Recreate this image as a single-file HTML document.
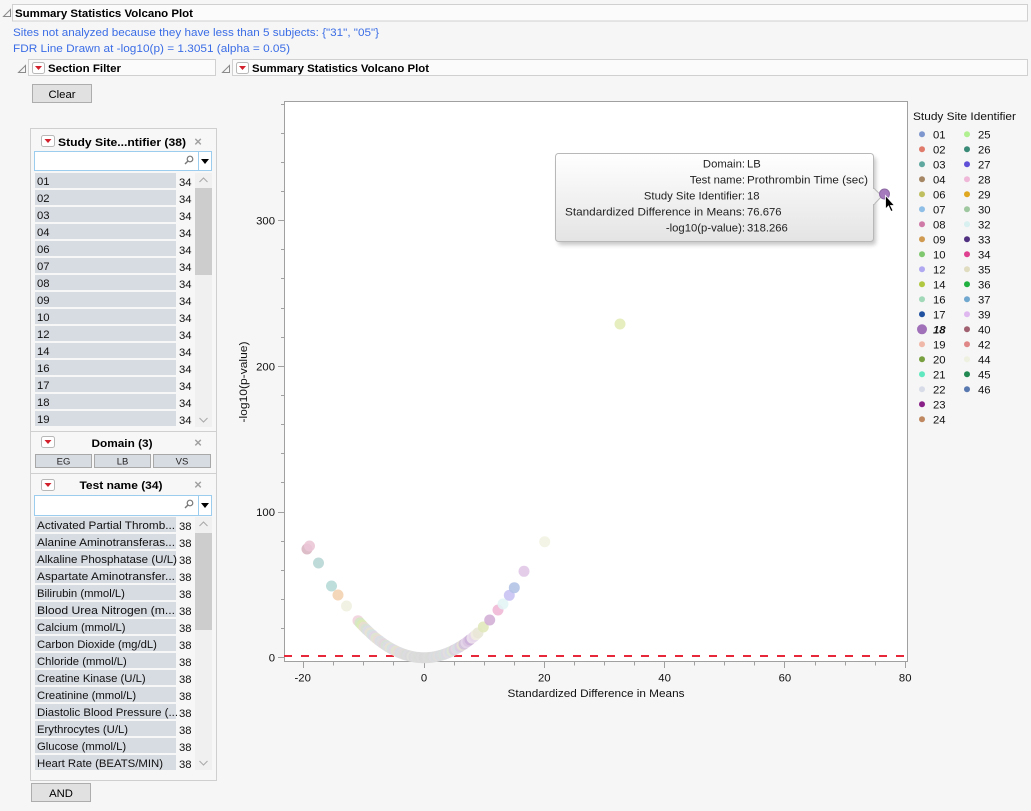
<!DOCTYPE html>
<html><head><meta charset="utf-8">
<style>
html,body{margin:0;padding:0;background:#f6f6f6;}
body{width:1031px;height:811px;overflow:hidden;}
svg{display:block;font-family:"Liberation Sans",sans-serif;}
.b{font-weight:bold;}
</style></head>
<body>
<svg width="1031" height="811" viewBox="0 0 1031 811" xmlns="http://www.w3.org/2000/svg">
<defs>
<linearGradient id="tg" x1="0" y1="0" x2="0" y2="1"><stop offset="0" stop-color="#ffffff"/><stop offset="1" stop-color="#e4e4e4"/></linearGradient>
<filter id="sh" x="-10%" y="-10%" width="130%" height="140%"><feGaussianBlur stdDeviation="2"/></filter>
</defs>
<rect x="0" y="0" width="1031" height="811" fill="#f6f6f6"/>

<!-- top header -->
<polygon points="3.5,16.5 10.5,16.5 10.5,9.5" fill="none" stroke="#8a8a8a"/>
<rect x="12.5" y="4.5" width="1015" height="16.5" fill="#fbfbfb" stroke="#d0d0d0"/>
<text x="15" y="17" font-size="11.4" class="b" fill="#000" textLength="178" lengthAdjust="spacingAndGlyphs">Summary Statistics Volcano Plot</text>
<text x="13" y="36" font-size="11.3" fill="#3b6de6" textLength="366" lengthAdjust="spacingAndGlyphs">Sites not analyzed because they have less than 5 subjects: {"31", "05"}</text>
<text x="13" y="52" font-size="11.3" fill="#3b6de6" textLength="277" lengthAdjust="spacingAndGlyphs">FDR Line Drawn at -log10(p) = 1.3051 (alpha = 0.05)</text>

<!-- section filter header -->
<polygon points="18.5,72.5 25.5,72.5 25.5,65.5" fill="none" stroke="#8a8a8a"/>
<rect x="28.5" y="59.5" width="187" height="16" fill="#fbfbfb" stroke="#d0d0d0"/>
<rect x="32.5" y="62.5" width="12" height="11" rx="2" fill="#fff" stroke="#b8b8b8"/>
<polygon points="35,66 42,66 38.5,70" fill="#d2202c"/>
<text x="48" y="72" font-size="11.4" class="b" textLength="73" lengthAdjust="spacingAndGlyphs">Section Filter</text>

<!-- volcano header -->
<polygon points="222.5,72.5 229.5,72.5 229.5,65.5" fill="none" stroke="#8a8a8a"/>
<rect x="232.5" y="59.5" width="795" height="16" fill="#fbfbfb" stroke="#d0d0d0"/>
<rect x="236.5" y="62.5" width="12" height="11" rx="2" fill="#fff" stroke="#b8b8b8"/>
<polygon points="239,66 246,66 242.5,70" fill="#d2202c"/>
<text x="252" y="72" font-size="11.4" class="b" textLength="177" lengthAdjust="spacingAndGlyphs">Summary Statistics Volcano Plot</text>

<!-- Clear -->
<rect x="32.5" y="84.5" width="59" height="18" fill="#e1e1e1" stroke="#adadad"/>
<text x="62" y="98" font-size="11.3" text-anchor="middle">Clear</text>

<!-- filter panel -->
<rect x="30.5" y="128.5" width="186" height="652" fill="#f7f7f7" stroke="#cfcfcf"/>
<rect x="41.5" y="135.5" width="13" height="11" rx="2" fill="#fff" stroke="#b8b8b8"/>
<polygon points="44.5,139 51.5,139 48,143" fill="#d2202c"/>
<text x="58" y="146" font-size="11.4" class="b" textLength="128" lengthAdjust="spacingAndGlyphs">Study Site...ntifier (38)</text>
<text x="198" y="146" font-size="13" class="b" fill="#a0a0a0" text-anchor="middle">×</text>
<rect x="34.5" y="151.5" width="177" height="19" fill="#fff" stroke="#9ccdee"/>
<circle cx="190" cy="159" r="2.8" fill="none" stroke="#777" stroke-width="1.2"/>
<line x1="188" y1="161" x2="185" y2="164" stroke="#777" stroke-width="1.4"/>
<line x1="198.5" y1="152" x2="198.5" y2="170" stroke="#9ccdee"/>
<polygon points="201,159 209,159 205,164" fill="#000"/>

<g font-size="11.3" fill="#111">
<rect x="35" y="173" width="141" height="15" fill="#d7dbe2"/><text x="37" y="185">01</text><text x="179" y="186">34</text>
<rect x="35" y="190" width="141" height="15" fill="#d7dbe2"/><text x="37" y="202">02</text><text x="179" y="203">34</text>
<rect x="35" y="207" width="141" height="15" fill="#d7dbe2"/><text x="37" y="219">03</text><text x="179" y="220">34</text>
<rect x="35" y="224" width="141" height="15" fill="#d7dbe2"/><text x="37" y="236">04</text><text x="179" y="237">34</text>
<rect x="35" y="241" width="141" height="15" fill="#d7dbe2"/><text x="37" y="253">06</text><text x="179" y="254">34</text>
<rect x="35" y="258" width="141" height="15" fill="#d7dbe2"/><text x="37" y="270">07</text><text x="179" y="271">34</text>
<rect x="35" y="275" width="141" height="15" fill="#d7dbe2"/><text x="37" y="287">08</text><text x="179" y="288">34</text>
<rect x="35" y="292" width="141" height="15" fill="#d7dbe2"/><text x="37" y="304">09</text><text x="179" y="305">34</text>
<rect x="35" y="309" width="141" height="15" fill="#d7dbe2"/><text x="37" y="321">10</text><text x="179" y="322">34</text>
<rect x="35" y="326" width="141" height="15" fill="#d7dbe2"/><text x="37" y="338">12</text><text x="179" y="339">34</text>
<rect x="35" y="343" width="141" height="15" fill="#d7dbe2"/><text x="37" y="355">14</text><text x="179" y="356">34</text>
<rect x="35" y="360" width="141" height="15" fill="#d7dbe2"/><text x="37" y="372">16</text><text x="179" y="373">34</text>
<rect x="35" y="377" width="141" height="15" fill="#d7dbe2"/><text x="37" y="389">17</text><text x="179" y="390">34</text>
<rect x="35" y="394" width="141" height="15" fill="#d7dbe2"/><text x="37" y="406">18</text><text x="179" y="407">34</text>
<rect x="35" y="411" width="141" height="15" fill="#d7dbe2"/><text x="37" y="423">19</text><text x="179" y="424">34</text>
</g>
<rect x="195" y="173" width="17" height="254" fill="#f0f0f0"/>
<rect x="195" y="188" width="17" height="87" fill="#cdcdcd"/>
<polyline points="199.5,182 203.5,178 207.5,182" fill="none" stroke="#a8a8a8"/>
<polyline points="199.5,418 203.5,422 207.5,418" fill="none" stroke="#a8a8a8"/>

<line x1="31" y1="431.5" x2="216" y2="431.5" stroke="#d0d0d0"/>
<rect x="41.5" y="436.5" width="13" height="11" rx="2" fill="#fff" stroke="#b8b8b8"/>
<polygon points="44.5,440 51.5,440 48,444" fill="#d2202c"/>
<text x="122" y="447" font-size="11.4" class="b" text-anchor="middle" textLength="61" lengthAdjust="spacingAndGlyphs">Domain (3)</text>
<text x="198" y="447" font-size="13" class="b" fill="#a0a0a0" text-anchor="middle">×</text>
<g font-size="9.5" fill="#222" text-anchor="middle">
<rect x="35.5" y="454.5" width="56" height="13" fill="#d7dbe2" stroke="#a8a8a8"/><text x="63.5" y="464.5">EG</text>
<rect x="94.5" y="454.5" width="56" height="13" fill="#d7dbe2" stroke="#a8a8a8"/><text x="122.5" y="464.5">LB</text>
<rect x="153.5" y="454.5" width="57" height="13" fill="#d7dbe2" stroke="#a8a8a8"/><text x="182" y="464.5">VS</text>
</g>
<line x1="31" y1="473.5" x2="216" y2="473.5" stroke="#d0d0d0"/>

<rect x="41.5" y="479.5" width="13" height="11" rx="2" fill="#fff" stroke="#b8b8b8"/>
<polygon points="44.5,483 51.5,483 48,487" fill="#d2202c"/>
<text x="121" y="489" font-size="11.4" class="b" text-anchor="middle" textLength="83" lengthAdjust="spacingAndGlyphs">Test name (34)</text>
<text x="198" y="489" font-size="13" class="b" fill="#a0a0a0" text-anchor="middle">×</text>
<rect x="34.5" y="495.5" width="177" height="20" fill="#fff" stroke="#9ccdee"/>
<circle cx="190" cy="503" r="2.8" fill="none" stroke="#777" stroke-width="1.2"/>
<line x1="188" y1="505" x2="185" y2="508" stroke="#777" stroke-width="1.4"/>
<line x1="198.5" y1="496" x2="198.5" y2="515" stroke="#9ccdee"/>
<polygon points="201,503 209,503 205,508" fill="#000"/>

<g font-size="11.3" fill="#111">
<rect x="35" y="517" width="141" height="15" fill="#d7dbe2"/><text x="37" y="529" textLength="138" lengthAdjust="spacingAndGlyphs">Activated Partial Thromb...</text><text x="179" y="530">38</text>
<rect x="35" y="534" width="141" height="15" fill="#d7dbe2"/><text x="37" y="546" textLength="138" lengthAdjust="spacingAndGlyphs">Alanine Aminotransferas...</text><text x="179" y="547">38</text>
<rect x="35" y="551" width="141" height="15" fill="#d7dbe2"/><text x="37" y="563" textLength="140" lengthAdjust="spacingAndGlyphs">Alkaline Phosphatase (U/L)</text><text x="179" y="564">38</text>
<rect x="35" y="568" width="141" height="15" fill="#d7dbe2"/><text x="37" y="580" textLength="138" lengthAdjust="spacingAndGlyphs">Aspartate Aminotransfer...</text><text x="179" y="581">38</text>
<rect x="35" y="585" width="141" height="15" fill="#d7dbe2"/><text x="37" y="597">Bilirubin (mmol/L)</text><text x="179" y="598">38</text>
<rect x="35" y="602" width="141" height="15" fill="#d7dbe2"/><text x="37" y="614" textLength="138" lengthAdjust="spacingAndGlyphs">Blood Urea Nitrogen (m...</text><text x="179" y="615">38</text>
<rect x="35" y="619" width="141" height="15" fill="#d7dbe2"/><text x="37" y="631">Calcium (mmol/L)</text><text x="179" y="632">38</text>
<rect x="35" y="636" width="141" height="15" fill="#d7dbe2"/><text x="37" y="648">Carbon Dioxide (mg/dL)</text><text x="179" y="649">38</text>
<rect x="35" y="653" width="141" height="15" fill="#d7dbe2"/><text x="37" y="665">Chloride (mmol/L)</text><text x="179" y="666">38</text>
<rect x="35" y="670" width="141" height="15" fill="#d7dbe2"/><text x="37" y="682">Creatine Kinase (U/L)</text><text x="179" y="683">38</text>
<rect x="35" y="687" width="141" height="15" fill="#d7dbe2"/><text x="37" y="699">Creatinine (mmol/L)</text><text x="179" y="700">38</text>
<rect x="35" y="704" width="141" height="15" fill="#d7dbe2"/><text x="37" y="716" textLength="141" lengthAdjust="spacingAndGlyphs">Diastolic Blood Pressure (...</text><text x="179" y="717">38</text>
<rect x="35" y="721" width="141" height="15" fill="#d7dbe2"/><text x="37" y="733">Erythrocytes (U/L)</text><text x="179" y="734">38</text>
<rect x="35" y="738" width="141" height="15" fill="#d7dbe2"/><text x="37" y="750">Glucose (mmol/L)</text><text x="179" y="751">38</text>
<rect x="35" y="755" width="141" height="15" fill="#d7dbe2"/><text x="37" y="767" textLength="126" lengthAdjust="spacingAndGlyphs">Heart Rate (BEATS/MIN)</text><text x="179" y="768">38</text>
</g>
<rect x="195" y="517" width="17" height="253" fill="#f0f0f0"/>
<rect x="195" y="533" width="17" height="97" fill="#cdcdcd"/>
<polyline points="199.5,526 203.5,522 207.5,526" fill="none" stroke="#a8a8a8"/>
<polyline points="199.5,761 203.5,765 207.5,761" fill="none" stroke="#a8a8a8"/>

<!-- AND -->
<rect x="31.5" y="783.5" width="59" height="18" fill="#e1e1e1" stroke="#adadad"/>
<text x="61" y="797" font-size="11.3" text-anchor="middle">AND</text>

<!-- plot frame -->
<rect x="284.5" y="101.5" width="623" height="560" fill="#ffffff" stroke="#a0a0a0"/>

<!-- y ticks -->
<path d="M281 628.5h3M281 599.5h3M281 570.5h3M281 541.5h3M281 482.5h3M281 453.5h3M281 424.5h3M281 395.5h3M281 337.5h3M281 308.5h3M281 278.5h3M281 249.5h3M281 191.5h3M281 162.5h3M281 133.5h3M281 104.5h3" stroke="#a0a0a0" fill="none"/>
<path d="M278 657.5h6M278 512.5h6M278 366.5h6M278 220.5h6" stroke="#a0a0a0" fill="none"/>
<g font-size="11.3" fill="#111" text-anchor="end">
<text x="275" y="661.7">0</text>
<text x="275" y="516">100</text>
<text x="275" y="370.3">200</text>
<text x="275" y="224.6">300</text>
</g>
<text transform="translate(247,382) rotate(-90)" font-size="11.3" text-anchor="middle" fill="#111" textLength="81" lengthAdjust="spacingAndGlyphs">-log10(p-value)</text>

<!-- x ticks -->
<path d="M333.5 662v3.5M363.5 662v3.5M393.5 662v3.5M454.5 662v3.5M484.5 662v3.5M514.5 662v3.5M574.5 662v3.5M604.5 662v3.5M634.5 662v3.5M694.5 662v3.5M724.5 662v3.5M754.5 662v3.5M815.5 662v3.5M845.5 662v3.5M875.5 662v3.5" stroke="#a0a0a0" fill="none"/>
<path d="M303.5 662v6M424.5 662v6M544.5 662v6M664.5 662v6M784.5 662v6M905.5 662v6" stroke="#a0a0a0" fill="none"/>
<g font-size="11.3" fill="#111" text-anchor="middle">
<text x="302.7" y="681.5">-20</text>
<text x="424" y="681.5">0</text>
<text x="544.3" y="681.5">20</text>
<text x="664.6" y="681.5">40</text>
<text x="784.9" y="681.5">60</text>
<text x="905.2" y="681.5">80</text>
</g>
<text x="596" y="697" font-size="11.3" text-anchor="middle" fill="#111" textLength="177" lengthAdjust="spacingAndGlyphs">Standardized Difference in Means</text>

<!-- FDR line -->
<line x1="284" y1="656" x2="905" y2="656" stroke="#e6283a" stroke-width="2" stroke-dasharray="8 9"/>

<!-- points -->
<g fill-opacity="0.88">
<circle cx="307" cy="549" r="5.5" fill="#d8b4c0"/>
<circle cx="309.5" cy="546" r="5.5" fill="#ecc6d6"/>
<circle cx="318.5" cy="563" r="5.5" fill="#b6d6d4"/>
<circle cx="331.5" cy="586" r="5.5" fill="#b4dad6"/>
<circle cx="338" cy="595" r="5.5" fill="#f2d0ae"/>
<circle cx="346.5" cy="606" r="5.5" fill="#f0f0e0"/>
<circle cx="358" cy="620.7" r="5.5" fill="#f0d2dc"/>
<circle cx="360" cy="622.9" r="5.5" fill="#d2e8c2"/>
<circle cx="362" cy="625" r="5.5" fill="#dcebb4"/>
<circle cx="364" cy="627.1" r="5.5" fill="#e8dcd4"/>
<circle cx="366" cy="629.1" r="5.5" fill="#d6e2d4"/>
<circle cx="368" cy="631" r="5.5" fill="#dcdce6"/>
<circle cx="370" cy="632.9" r="5.5" fill="#e6e2d2"/>
<circle cx="372" cy="634.7" r="5.5" fill="#d4e0e2"/>
<circle cx="374" cy="636.5" r="5.5" fill="#e2d6e6"/>
<circle cx="376" cy="638.1" r="5.5" fill="#dfe6cf"/>
<circle cx="378" cy="639.7" r="5.5" fill="#e8dcd6"/>
<circle cx="380" cy="641.2" r="5.5" fill="#d8dde6"/>
<circle cx="382" cy="642.7" r="5.5" fill="#dedede"/>
<circle cx="384" cy="644.1" r="5.5" fill="#e4d6de"/>
<circle cx="386" cy="645.4" r="5.5" fill="#d6e2d4"/>
<circle cx="388" cy="646.7" r="5.5" fill="#dcdce6"/>
<circle cx="390" cy="647.9" r="5.5" fill="#e6e2d2"/>
<circle cx="392" cy="649" r="5.5" fill="#d4e0e2"/>
<circle cx="394" cy="650" r="5.5" fill="#e2d6e6"/>
<circle cx="396" cy="651" r="5.5" fill="#dfe6cf"/>
<circle cx="398" cy="652" r="5.5" fill="#e8dcd6"/>
<circle cx="400" cy="652.8" r="5.5" fill="#d8dde6"/>
<circle cx="402" cy="653.6" r="5.5" fill="#dedede"/>
<circle cx="404" cy="654.3" r="5.5" fill="#e0dcdc"/>
<circle cx="406" cy="655" r="5.5" fill="#d8dcd8"/>
<circle cx="408" cy="655.5" r="5.5" fill="#dcdce0"/>
<circle cx="410" cy="656" r="5.5" fill="#dadada"/>
<circle cx="412" cy="656.5" r="5.5" fill="#e0e0dc"/>
<circle cx="414" cy="656.9" r="5.5" fill="#d8d8dc"/>
<circle cx="416" cy="657.2" r="5.5" fill="#dcdcdc"/>
<circle cx="418" cy="657.4" r="5.5" fill="#d8dcd8"/>
<circle cx="420" cy="657.6" r="5.5" fill="#dadada"/>
<circle cx="422" cy="657.7" r="5.5" fill="#dcdcdc"/>
<circle cx="424" cy="657.7" r="5.5" fill="#d8d8d8"/>
<circle cx="426" cy="657.7" r="5.5" fill="#dadada"/>
<circle cx="428" cy="657.6" r="5.5" fill="#dcdcdc"/>
<circle cx="430" cy="657.4" r="5.5" fill="#d8dcd8"/>
<circle cx="432" cy="657.2" r="5.5" fill="#dadada"/>
<circle cx="434" cy="656.9" r="5.5" fill="#dcdce0"/>
<circle cx="436" cy="656.5" r="5.5" fill="#d8dcdc"/>
<circle cx="438" cy="656" r="5.5" fill="#e0dcdc"/>
<circle cx="440" cy="655.5" r="5.5" fill="#d6dce0"/>
<circle cx="442" cy="655" r="5.5" fill="#dcdcdc"/>
<circle cx="444" cy="654.3" r="5.5" fill="#d6e0dc"/>
<circle cx="446" cy="653.6" r="5.5" fill="#dcd8e4"/>
<circle cx="448" cy="652.8" r="5.5" fill="#e2dede"/>
<circle cx="450" cy="652" r="5.5" fill="#d8dce6"/>
<circle cx="452" cy="651" r="5.5" fill="#dfe6d2"/>
<circle cx="454" cy="650" r="5.5" fill="#d8d0e0"/>
<circle cx="456" cy="649" r="5.5" fill="#e4d8e4"/>
<circle cx="458" cy="647.9" r="5.5" fill="#d4e0e2"/>
<circle cx="460" cy="646.7" r="5.5" fill="#dccce2"/>
<circle cx="462" cy="645.4" r="5.5" fill="#e6e2d2"/>
<circle cx="464" cy="644.1" r="5.5" fill="#d0bedc"/>
<circle cx="466" cy="642.7" r="5.5" fill="#e6d6ea"/>
<circle cx="468" cy="641.2" r="5.5" fill="#d8c4e0"/>
<circle cx="470" cy="639.7" r="5.5" fill="#ccb2d8"/>
<circle cx="472" cy="638.1" r="5.5" fill="#efe4ee"/>
<circle cx="474" cy="636.5" r="5.5" fill="#e6d6ea"/>
<circle cx="476" cy="634.7" r="5.5" fill="#f0eee0"/>
<circle cx="478" cy="632.9" r="5.5" fill="#e8e6d6"/>
<circle cx="483.3" cy="627" r="5.5" fill="#e0e8ba"/>
<circle cx="489.7" cy="620" r="5.5" fill="#d2aed6"/>
<circle cx="498" cy="610" r="5.5" fill="#efb6d4"/>
<circle cx="503" cy="604" r="5.5" fill="#e2f5f5"/>
<circle cx="509.3" cy="595.3" r="5.5" fill="#c6c2f2"/>
<circle cx="514.3" cy="587.7" r="5.5" fill="#b2c2e6"/>
<circle cx="524" cy="571.3" r="5.5" fill="#dfc6e6"/>
<circle cx="544.7" cy="541.7" r="5.5" fill="#f3f3e3"/>
<circle cx="620" cy="324" r="5.5" fill="#e2ebb6"/>
</g>

<!-- tooltip -->
<rect x="558" y="157" width="318" height="88" rx="3" fill="#000" opacity="0.22" filter="url(#sh)"/>
<rect x="555.5" y="153.5" width="318" height="88" rx="3" fill="url(#tg)" stroke="#b8b8b8"/>
<polygon points="873.5,188 882,196 873.5,205" fill="#eeeeee" stroke="#b8b8b8"/>
<line x1="873.5" y1="189" x2="873.5" y2="204" stroke="#f0f0f0" stroke-width="1.5"/>
<g font-size="11.3" fill="#222">
<text x="745" y="167.5" text-anchor="end">Domain:</text><text x="747" y="167.5">LB</text>
<text x="745" y="183.5" text-anchor="end">Test name:</text><text x="747" y="183.5" textLength="121" lengthAdjust="spacingAndGlyphs">Prothrombin Time (sec)</text>
<text x="745" y="199.5" text-anchor="end">Study Site Identifier:</text><text x="747" y="199.5">18</text>
<text x="745" y="215.5" text-anchor="end" textLength="180" lengthAdjust="spacingAndGlyphs">Standardized Difference in Means:</text><text x="747" y="215.5">76.676</text>
<text x="745" y="231.5" text-anchor="end">-log10(p-value):</text><text x="747" y="231.5">318.266</text>
</g>
<circle cx="884.5" cy="194" r="5" fill="#a67bbd" stroke="#8e6aa2"/>
<polygon points="885.5,195.5 885.5,209 888.5,206 891,211.5 893,210.5 890.5,205.5 894.5,205.5" fill="#000" stroke="#fff" stroke-width="0.8"/>

<!-- legend -->
<text x="913" y="120" font-size="11.3" fill="#111" textLength="103" lengthAdjust="spacingAndGlyphs">Study Site Identifier</text>
<g font-size="11.3" fill="#111">
<circle cx="922" cy="134.3" r="3" fill="#7f97cf"/><text x="933" y="138.3">01</text>
<circle cx="922" cy="149.3" r="3" fill="#e07a6a"/><text x="933" y="153.3">02</text>
<circle cx="922" cy="164.3" r="3" fill="#5fa8a0"/><text x="933" y="168.3">03</text>
<circle cx="922" cy="179.3" r="3" fill="#a58765"/><text x="933" y="183.3">04</text>
<circle cx="922" cy="194.3" r="3" fill="#bfbf60"/><text x="933" y="198.3">06</text>
<circle cx="922" cy="209.3" r="3" fill="#8fbfe6"/><text x="933" y="213.3">07</text>
<circle cx="922" cy="224.3" r="3" fill="#d07aa8"/><text x="933" y="228.3">08</text>
<circle cx="922" cy="239.3" r="3" fill="#d09a50"/><text x="933" y="243.3">09</text>
<circle cx="922" cy="254.3" r="3" fill="#80c870"/><text x="933" y="258.3">10</text>
<circle cx="922" cy="269.3" r="3" fill="#b0a8f0"/><text x="933" y="273.3">12</text>
<circle cx="922" cy="284.3" r="3" fill="#b0c840"/><text x="933" y="288.3">14</text>
<circle cx="922" cy="299.3" r="3" fill="#a0d8b8"/><text x="933" y="303.3">16</text>
<circle cx="922" cy="314.3" r="3" fill="#2050a0"/><text x="933" y="318.3">17</text>
<circle cx="922" cy="329.3" r="5" fill="#a070b8"/><text x="933" y="333.3" font-weight="bold" font-style="italic">18</text>
<circle cx="922" cy="344.3" r="3" fill="#f0b8a8"/><text x="933" y="348.3">19</text>
<circle cx="922" cy="359.3" r="3" fill="#78a040"/><text x="933" y="363.3">20</text>
<circle cx="922" cy="374.3" r="3" fill="#60e8c0"/><text x="933" y="378.3">21</text>
<circle cx="922" cy="389.3" r="3" fill="#d8dce8"/><text x="933" y="393.3">22</text>
<circle cx="922" cy="404.3" r="3" fill="#882088"/><text x="933" y="408.3">23</text>
<circle cx="922" cy="419.3" r="3" fill="#c08860"/><text x="933" y="423.3">24</text>
<circle cx="967" cy="134.3" r="3" fill="#b0f090"/><text x="978" y="138.3">25</text>
<circle cx="967" cy="149.3" r="3" fill="#3a8a78"/><text x="978" y="153.3">26</text>
<circle cx="967" cy="164.3" r="3" fill="#6050d8"/><text x="978" y="168.3">27</text>
<circle cx="967" cy="179.3" r="3" fill="#f0b8d8"/><text x="978" y="183.3">28</text>
<circle cx="967" cy="194.3" r="3" fill="#e0a820"/><text x="978" y="198.3">29</text>
<circle cx="967" cy="209.3" r="3" fill="#a0c8a0"/><text x="978" y="213.3">30</text>
<circle cx="967" cy="224.3" r="3" fill="#d8f0f0"/><text x="978" y="228.3">32</text>
<circle cx="967" cy="239.3" r="3" fill="#503080"/><text x="978" y="243.3">33</text>
<circle cx="967" cy="254.3" r="3" fill="#e04090"/><text x="978" y="258.3">34</text>
<circle cx="967" cy="269.3" r="3" fill="#e0dcc0"/><text x="978" y="273.3">35</text>
<circle cx="967" cy="284.3" r="3" fill="#20b040"/><text x="978" y="288.3">36</text>
<circle cx="967" cy="299.3" r="3" fill="#70a8d0"/><text x="978" y="303.3">37</text>
<circle cx="967" cy="314.3" r="3" fill="#e0b8f0"/><text x="978" y="318.3">39</text>
<circle cx="967" cy="329.3" r="3" fill="#a06070"/><text x="978" y="333.3">40</text>
<circle cx="967" cy="344.3" r="3" fill="#e08888"/><text x="978" y="348.3">42</text>
<circle cx="967" cy="359.3" r="3" fill="#eef0e0"/><text x="978" y="363.3">44</text>
<circle cx="967" cy="374.3" r="3" fill="#208850"/><text x="978" y="378.3">45</text>
<circle cx="967" cy="389.3" r="3" fill="#5878b0"/><text x="978" y="393.3">46</text>
</g>
</svg>
</body></html>
